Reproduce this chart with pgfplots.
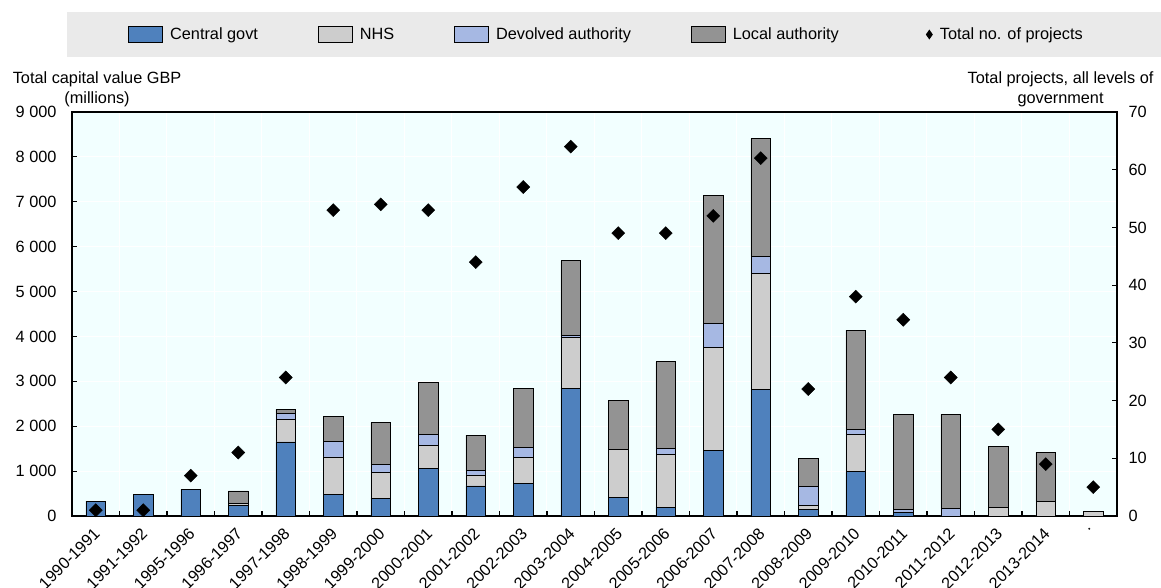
\documentclass[border=0pt]{standalone}
\usepackage{pgfplots}
\pgfplotsset{compat=1.18}
\usepackage{fontspec}
\setmainfont{Liberation Sans}
\definecolor{cgov}{RGB}{79,129,189}
\definecolor{nhs}{RGB}{205,205,205}
\definecolor{devo}{RGB}{166,184,227}
\definecolor{local}{RGB}{147,147,147}
\definecolor{plotbg}{RGB}{242,255,255}
\definecolor{legbg}{RGB}{234,234,234}
\newcommand{\fs}{\fontsize{16.3}{20}\selectfont}
\begin{document}
\begin{tikzpicture}[x=1pt,y=1pt]
\useasboundingbox (0,0) rectangle (1161,588);
\fill[legbg] (67,531) rectangle (1161,576);
\begin{axis}[
  at={(72pt,72pt)}, anchor=south west,
  scale only axis, width=1045pt, height=404pt,
  xmin=-0.5, xmax=21.5, ymin=0, ymax=9000,
  clip=false,
  ybar stacked, bar width=19.5pt,
  axis background/.style={fill=plotbg},
  axis line style={black, line width=1.6pt},
  xtick={0,...,21},
  xticklabels={1990-1991,1991-1992,1995-1996,1996-1997,1997-1998,1998-1999,1999-2000,2000-2001,2001-2002,2002-2003,2003-2004,2004-2005,2005-2006,2006-2007,2007-2008,2008-2009,2009-2010,2010-2011,2011-2012,2012-2013,2013-2014,.},
  minor xtick={-0.5,0.5,...,21.5},
  xminorgrids, ymajorgrids,
  minor grid style={white, line width=1pt},
  major grid style={white, line width=1pt},
  tick align=inside,
  major tick length=5pt, minor tick length=5pt,
  tick style={black, line width=1.2pt},
  major x tick style={draw=none},
  ytick={0,1000,...,9000},
  yticklabels={0,1 000,2 000,3 000,4 000,5 000,6 000,7 000,8 000,9 000},
  ytick pos=left, xtick pos=bottom,
  /pgf/number format/assume math mode=true,
  tick label style={font=\fs},
  yticklabel style={xshift=-12pt},
  xticklabel style={xshift=-3pt, yshift=-6pt, rotate=45, anchor=north east},
]
\addplot[fill=cgov, draw=black, line width=0.8pt] coordinates {
(0,330) (1,480) (2,592) (3,245) (4,1650) (5,490) (6,400) (7,1060) (8,670) (9,720) (10,2850) (11,420) (12,195) (13,1455) (14,2810) (15,155) (16,990) (17,80) (18,0) (19,0) (20,0) (21,0)};
\addplot[fill=nhs, draw=black, line width=0.8pt] coordinates {
(0,0) (1,0) (2,0) (3,30) (4,505) (5,825) (6,580) (7,515) (8,245) (9,590) (10,1125) (11,1065) (12,1170) (13,2300) (14,2595) (15,90) (16,830) (17,0) (18,0) (19,186) (20,327) (21,104)};
\addplot[fill=devo, draw=black, line width=0.8pt] coordinates {
(0,0) (1,0) (2,0) (3,0) (4,135) (5,340) (6,165) (7,235) (8,90) (9,225) (10,40) (11,0) (12,140) (13,535) (14,385) (15,410) (16,110) (17,70) (18,171) (19,0) (20,0) (21,0)};
\addplot[fill=local, draw=black, line width=0.8pt] coordinates {
(0,0) (1,0) (2,0) (3,282) (4,86) (5,565) (6,935) (7,1160) (8,795) (9,1305) (10,1670) (11,1085) (12,1930) (13,2860) (14,2615) (15,625) (16,2213) (17,2122) (18,2093) (19,1358) (20,1098) (21,0)};
\node[font=\fs, align=center, anchor=south, inner sep=0pt] at (rel axis cs:0.024,1) [yshift=5pt] {Total capital value GBP\\(millions)};
\node[font=\fs, align=center, anchor=south, inner sep=0pt] at (rel axis cs:0.946,1) [yshift=5pt] {Total projects, all levels of\\government};
\end{axis}
\begin{axis}[
  at={(72pt,72pt)}, anchor=south west,
  scale only axis, width=1045pt, height=404pt,
  xmin=-0.5, xmax=21.5, ymin=0, ymax=70,
  axis x line=none, axis y line*=right,
  axis line style={black, line width=1.6pt},
  ytick={0,10,...,70},
  tick align=inside, major tick length=5pt,
  tick style={black, line width=1.2pt},
  /pgf/number format/assume math mode=true,
  tick label style={font=\fs},
  yticklabel style={xshift=8pt},
  legend columns=5,
  legend style={at={(0.5115,1.1918)}, anchor=center, draw=none, fill=none, font=\fs,
    /tikz/every odd column/.append style={column sep=5pt},
    /tikz/every even column/.append style={column sep=58pt}},
]
\addlegendimage{legend image code/.code={\draw[fill=cgov,draw=black,line width=0.8pt] (0pt,-8pt) rectangle (34pt,8pt);}}
\addlegendentry{Central govt}
\addlegendimage{legend image code/.code={\draw[fill=nhs,draw=black,line width=0.8pt] (0pt,-8pt) rectangle (34pt,8pt);}}
\addlegendentry{NHS\hspace{10pt}}
\addlegendimage{legend image code/.code={\draw[fill=devo,draw=black,line width=0.8pt] (0pt,-8pt) rectangle (34pt,8pt);}}
\addlegendentry{Devolved authority}
\addlegendimage{legend image code/.code={\draw[fill=local,draw=black,line width=0.8pt] (0pt,-8pt) rectangle (34pt,8pt);}}
\addlegendentry{Local authority}
\addplot[only marks, mark=square*, mark size=4.6pt, mark options={rotate=45, fill=black, draw=black},
  legend image code/.code={\path[draw=none,fill=none] (0pt,0pt) -- (27pt,0pt); \fill[black,draw=none] (30.5pt,5pt) -- (34pt,0pt) -- (30.5pt,-5pt) -- (27pt,0pt) -- cycle;}]
coordinates {
(0,1) (1,1) (2,7) (3,11) (4,24) (5,53) (6,54) (7,53) (8,44) (9,57) (10,64) (11,49) (12,49) (13,52) (14,62) (15,22) (16,38) (17,34) (18,24) (19,15) (20,9) (21,5)};
\addlegendentry{Total no. of projects}
\end{axis}
\end{tikzpicture}
\end{document}
